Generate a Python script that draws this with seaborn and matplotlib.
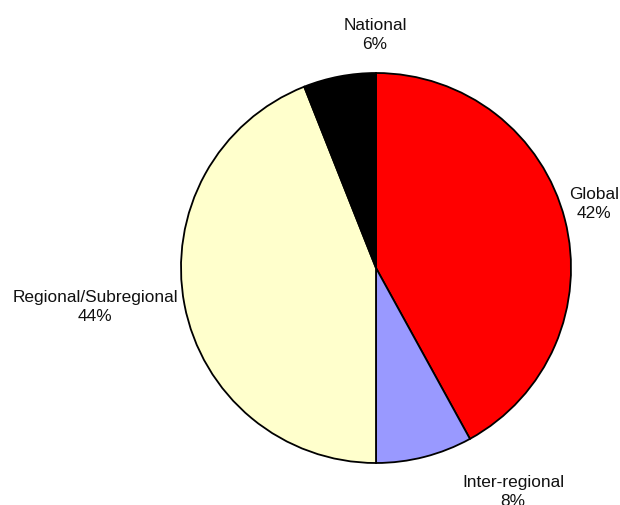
import matplotlib
matplotlib.use("Agg")
import matplotlib.pyplot as plt
import seaborn as sns

# Data (clockwise from 12 o'clock)
categories = ["Global", "Inter-regional", "Regional/Subregional", "National"]
shares = [42, 8, 44, 6]
colors = ["#FF0000", "#9999FF", "#FFFFCC", "#000000"]

# Label anchor points (pixel coords, y measured from top)
label_pos = [(594, 204), (513, 492), (95, 307), (375, 35)]

sns.set_theme(style="white")
plt.rcParams['font.family'] = ['Liberation Sans', 'DejaVu Sans']

fig = plt.figure(figsize=(6.2, 5.06), dpi=100)
ax = fig.add_axes([0, 0, 1, 1])

# y axis runs downward, so a counter-clockwise pie in data space reads clockwise
ax.pie(shares, colors=colors, startangle=-90, counterclock=True,
       center=(376, 269), radius=195, frame=True,
       wedgeprops=dict(edgecolor="black", linewidth=1.3))
ax.set_xlim(0, 620)
ax.set_ylim(506, 0)
ax.set_axis_off()

for name, val, (x, y) in zip(categories, shares, label_pos):
    ax.text(x, y, f"{name}\n{val}%", ha="center", va="center",
            fontsize=12.4, color="#111111", linespacing=1.4)

fig.savefig("out.png", dpi=100)
